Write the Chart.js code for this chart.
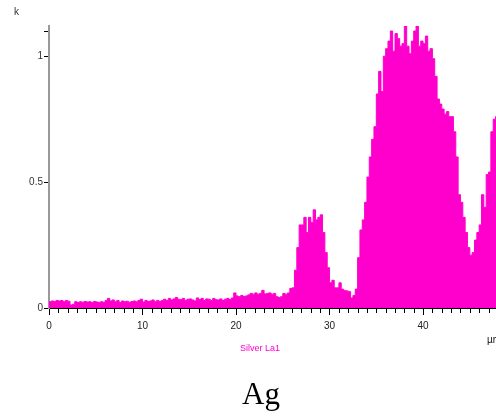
<!DOCTYPE html>
<html>
<head>
<meta charset="utf-8">
<script src="https://cdn.jsdelivr.net/npm/chart.js@4/dist/chart.umd.min.js"></script>
<style>
  html, body { margin: 0; padding: 0; background: #fff; }
  #wrap { position: relative; width: 496px; height: 419px; overflow: hidden; }
  #spectrum { position: absolute; left: 0; top: 0; }
  .lbl { position: absolute; font-family: "Liberation Sans", Arial, sans-serif; white-space: nowrap; }
</style>
</head>
<body>
<div id="wrap">
  <canvas id="spectrum" width="496" height="419"></canvas>
  <div class="lbl" style="left:14px; top:6px; font-size:10px; color:#333;">k</div>
  <div class="lbl" style="left:487px; top:334px; font-size:10px; color:#111;">µm</div>
  <div class="lbl" style="left:240px; top:343px; font-size:9px; color:#ff00cc;">Silver La1</div>
  <div class="lbl" style="left:242px; top:376px; font-size:31px; color:#000; font-family:'Liberation Serif','Times New Roman',serif;">Ag</div>
</div>
<script>
// line scan, intensity per 0.25 µm step
const binWidth = 0.25;
const intensity = [
    0.025, 0.028, 0.026, 0.030,  0.028, 0.030, 0.025, 0.030,
    0.027, 0.012, 0.015, 0.025,  0.022, 0.025, 0.023, 0.026,
    0.024, 0.025, 0.022, 0.026,  0.024, 0.022, 0.025, 0.023,
    0.030, 0.038, 0.028, 0.032,  0.025, 0.030, 0.022, 0.028,
    0.025, 0.027, 0.023, 0.026,  0.028, 0.025, 0.030, 0.035,
    0.024, 0.030, 0.026, 0.028,  0.032, 0.025, 0.030, 0.026,
    0.030, 0.035, 0.030, 0.038,  0.032, 0.036, 0.042, 0.035,
    0.033, 0.038, 0.030, 0.035,  0.036, 0.032, 0.028, 0.040,
    0.034, 0.038, 0.030, 0.036,  0.035, 0.030, 0.038, 0.033,
    0.032, 0.036, 0.030, 0.035,  0.038, 0.034, 0.040, 0.060,
    0.048, 0.045, 0.050, 0.046,  0.048, 0.052, 0.058, 0.055,
    0.060, 0.055, 0.058, 0.070,  0.056, 0.058, 0.060, 0.055,
    0.058, 0.045, 0.042, 0.045,  0.058, 0.055, 0.060, 0.078,
    0.080, 0.150, 0.240, 0.330,  0.330, 0.360, 0.300, 0.360,
    0.340, 0.390, 0.350, 0.360,  0.370, 0.300, 0.220, 0.160,
    0.100, 0.110, 0.080, 0.080,  0.100, 0.075, 0.070, 0.068,
    0.065, 0.040, 0.050, 0.075,  0.200, 0.310, 0.350, 0.420,
    0.520, 0.600, 0.670, 0.720,  0.850, 0.940, 0.860, 1.000,
    1.030, 1.060, 1.100, 1.020,  1.090, 1.070, 1.040, 1.050,
    1.120, 1.040, 1.010, 1.060,  1.100, 1.120, 1.040, 1.060,
    1.050, 1.080, 1.020, 1.030,  0.990, 0.920, 0.830, 0.810,
    0.790, 0.770, 0.780, 0.760,  0.760, 0.700, 0.600, 0.450,
    0.420, 0.360, 0.300, 0.240,  0.210, 0.220, 0.270, 0.300,
    0.330, 0.450, 0.400, 0.530,  0.540, 0.700, 0.750, 0.760,
];
const xTicks = [0, 10, 20, 30, 40];
const yTicks = [0, 0.5, 1];
const yCap = 1.1;

const MAGENTA = '#ff00cc';

const points = intensity.map(function (v, i) { return { x: i * binWidth, y: v }; });
points.push({ x: intensity.length * binWidth, y: intensity[intensity.length - 1] });

// small ticks every 1 µm under the x axis
const minorTicks = {
    id: 'minorTicks',
    afterDraw: function (chart) {
        const xs = chart.scales.x;
        const ctx = chart.ctx;
        const y0 = chart.chartArea.bottom;
        ctx.save();
        ctx.strokeStyle = '#000';
        ctx.lineWidth = 1;
        for (let v = Math.ceil(xs.min); v <= xs.max; v++) {
            if (v % 10 === 0) continue;
            const px = Math.round(xs.getPixelForValue(v)) + 0.5;
            ctx.beginPath();
            ctx.moveTo(px, y0);
            ctx.lineTo(px, y0 + 5);
            ctx.stroke();
        }
        ctx.restore();
    },
};

Chart.defaults.font.family = '"Liberation Sans", Arial, sans-serif';

new Chart(document.getElementById('spectrum'), {
    type: 'line',
    data: {
        datasets: [{
            data: points,
            stepped: true,
            fill: 'origin',
            backgroundColor: MAGENTA,
            borderColor: MAGENTA,
            borderWidth: 1,
            pointRadius: 0,
        }],
    },
    options: {
        responsive: false,
        animation: false,
        layout: { padding: { top: 26, right: 0, left: 0, bottom: 0 } },
        plugins: { legend: { display: false }, tooltip: { enabled: false } },
        scales: {
            x: {
                type: 'linear',
                min: 0,
                max: 47.8,
                afterBuildTicks: function (s) { s.ticks = xTicks.map(function (v) { return { value: v }; }); },
                afterFit: function (s) { s.height = 111; },
                ticks: { color: '#222', font: { size: 10 }, padding: 5, maxRotation: 0 },
                grid: { drawOnChartArea: false, tickLength: 7, tickColor: '#000' },
                border: { color: '#000', width: 1 },
            },
            y: {
                min: 0,
                max: 1.12,
                afterBuildTicks: function (s) {
                    s.ticks = yTicks.concat([yCap]).map(function (v) { return { value: v }; });
                },
                afterFit: function (s) { s.width = 49; },
                ticks: {
                    color: '#333',
                    font: { size: 10 },
                    padding: 1,
                    callback: function (v) { return yTicks.indexOf(v) >= 0 ? String(v) : ''; },
                },
                grid: { drawOnChartArea: false, tickLength: 5, tickColor: '#000' },
                border: { color: '#999', width: 2 },
            },
        },
    },
    plugins: [minorTicks],
});
</script>
</body>
</html>
